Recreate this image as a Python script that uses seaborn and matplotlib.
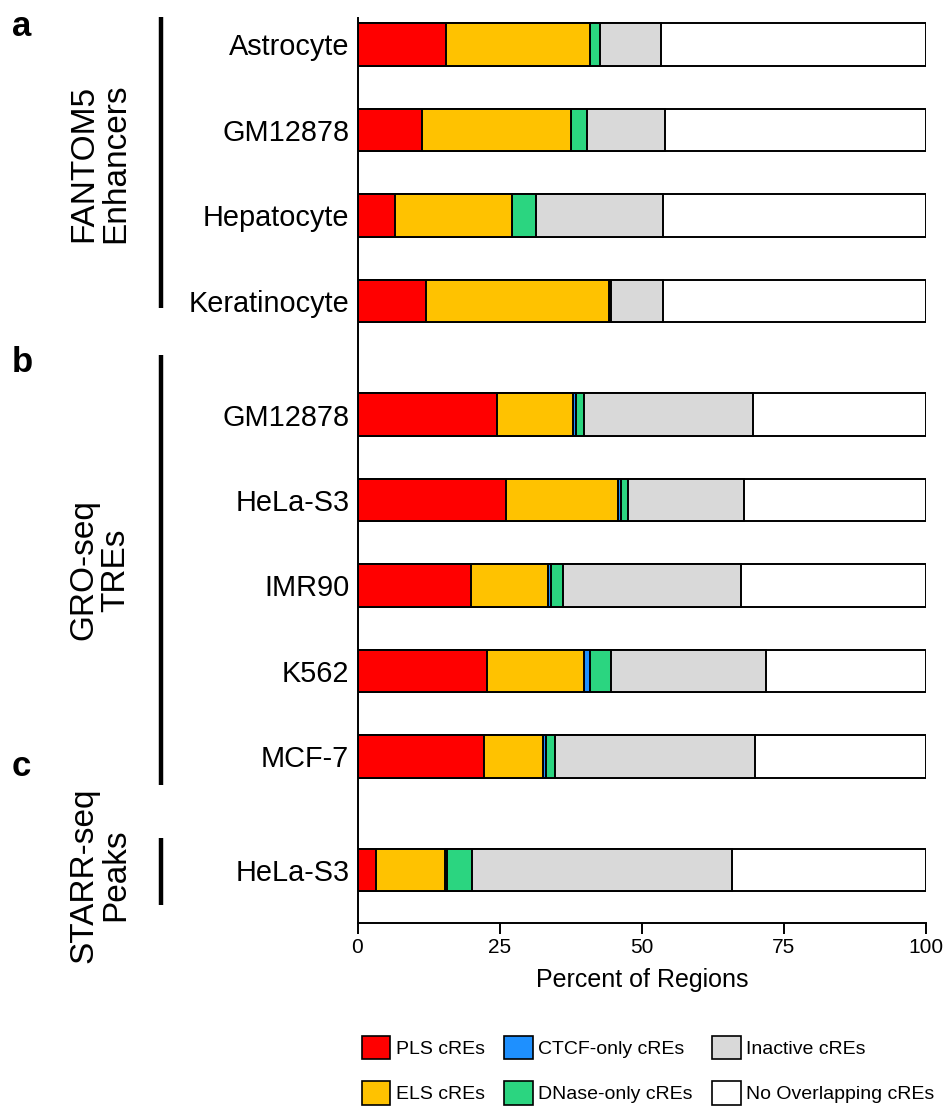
import numpy as np
import pandas as pd
import matplotlib
matplotlib.use("Agg")
import matplotlib.pyplot as plt
import seaborn as sns
from matplotlib.patches import Patch
from matplotlib.lines import Line2D

# ---------------- data ----------------
cell_types = ["Astrocyte", "GM12878", "Hepatocyte", "Keratinocyte",
              "GM12878", "HeLa-S3", "IMR90", "K562", "MCF-7",
              "HeLa-S3"]
groups = ["FANTOM5\nEnhancers"] * 4 + ["GRO-seq\nTREs"] * 5 + ["STARR-seq\nPeaks"]
panel_letters = ["a", "b", "c"]

pls_cres      = [15.5, 11.3, 6.6, 12.1, 24.5, 26.1, 20.0, 22.8, 22.2, 3.2]
els_cres      = [25.4, 26.3, 20.6, 32.2, 13.4, 19.7, 13.5, 17.1, 10.5, 12.2]
ctcf_cres     = [0.0, 0.0, 0.0, 0.1, 0.5, 0.5, 0.5, 1.0, 0.5, 0.4]
dnase_cres    = [1.8, 2.7, 4.2, 0.2, 1.5, 1.2, 2.2, 3.7, 1.5, 4.4]
inactive_cres = [10.7, 13.8, 22.3, 9.2, 29.7, 20.5, 31.2, 27.3, 35.3, 45.7]
no_overlap    = [46.6, 45.9, 46.3, 46.2, 30.4, 32.0, 32.6, 28.1, 30.0, 34.1]

categories = ["PLS cREs", "ELS cREs", "CTCF-only cREs",
              "DNase-only cREs", "Inactive cREs", "No Overlapping cREs"]
x_ticks = [0, 25, 50, 75, 100]
x_label = "Percent of Regions"

# ---------------- style ----------------
colors = ["#FF0000", "#FFC200", "#1E90FF", "#2BD580", "#D9D9D9", "#FFFFFF"]
sns.set_theme(style="white")
plt.rcParams["font.family"] = ["Liberation Sans", "DejaVu Sans"]
plt.rcParams["text.color"] = "black"
plt.rcParams["axes.labelcolor"] = "black"
plt.rcParams["xtick.color"] = "black"
plt.rcParams["ytick.color"] = "black"

GAP = 0.33
pos = []
p = 0.0
for i, g in enumerate(groups):
    if i > 0:
        p += 1.0 + (GAP if g != groups[i - 1] else 0.0)
    pos.append(round(p, 4))

series = [pls_cres, els_cres, ctcf_cres, dnase_cres, inactive_cres, no_overlap]
cum = np.cumsum(np.array(series, dtype=float), axis=0)
df = pd.DataFrame({"pos": pos})
for k in range(len(categories)):
    df[f"cum{k}"] = cum[k]

W, H = 950, 1120
fig = plt.figure(figsize=(W / 100, H / 100), dpi=100)
ax = fig.add_axes([357.5 / W, 1 - 923 / H, (926 - 357.5) / W, (923 - 18) / H])

for k in reversed(range(len(categories))):
    sns.barplot(data=df, x=f"cum{k}", y="pos", orient="h", native_scale=True,
                color=colors[k], saturation=1, edgecolor="black", linewidth=1.4,
                width=0.5, errorbar=None, ax=ax)

ax.set_xlim(0, 100)
ax.set_ylim(pos[-1] + 0.62, pos[0] - 0.31)
ax.set_yticks(pos)
ax.set_yticklabels(cell_types, fontsize=20.8, color="black")
ax.set_xticks(x_ticks)
ax.set_xticklabels([str(t) for t in x_ticks], fontsize=15, color="black")
ax.set_xlabel(x_label, fontsize=18, labelpad=8, color="black")
ax.set_ylabel("")
ax.tick_params(axis="y", length=0, pad=6)
ax.tick_params(axis="x", length=8, width=1.4, pad=3, color="black", bottom=True)
for s in ["top", "right"]:
    ax.spines[s].set_visible(False)
for s in ["left", "bottom"]:
    ax.spines[s].set_color("black")
    ax.spines[s].set_linewidth(1.4)
ax.grid(False)

# group annotations
group_names = ["FANTOM5\nEnhancers", "GRO-seq\nTREs", "STARR-seq\nPeaks"]
line_spans = [(17, 308), (355, 785), (838, 905)]
label_centers = [163, 570, 875]
letter_baselines = [36, 372, 776]
for name, (y0, y1), yc, let, yb in zip(group_names, line_spans, label_centers,
                                        panel_letters, letter_baselines):
    fig.add_artist(Line2D([161 / W, 161 / W], [1 - y0 / H, 1 - y1 / H],
                          color="black", lw=3.2, solid_capstyle="butt"))
    fig.text(100 / W, 1 - yc / H, name, rotation=90, ha="center", va="center",
             fontsize=24, multialignment="center", linespacing=1.05, color="black")
    fig.text(12 / W, 1 - yb / H, let, fontsize=25, fontweight="bold",
             ha="left", va="baseline", color="black")

handles = [Patch(facecolor=c, edgecolor="black", linewidth=1.2) for c in colors]
fig.legend(handles, categories, ncol=3, loc="upper left",
           bbox_to_anchor=(362 / W, 1 - 1036 / H), frameon=False, fontsize=14,
           handlelength=1.45, handleheight=1.45, handletextpad=0.3,
           columnspacing=1.0, labelspacing=1.15, borderpad=0, borderaxespad=0)

fig.savefig("out.png", dpi=100)
